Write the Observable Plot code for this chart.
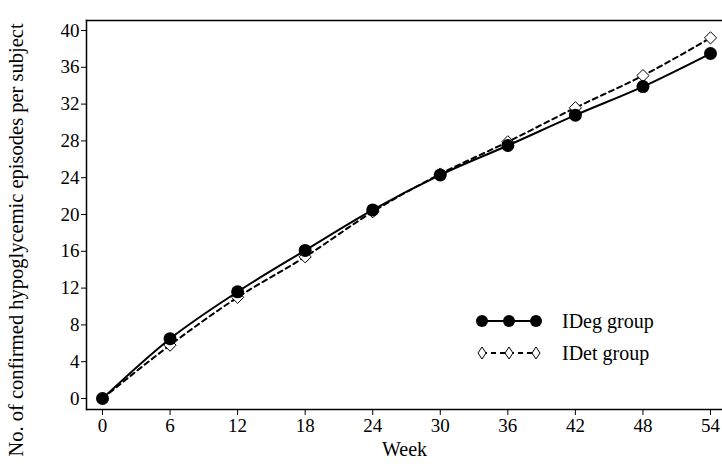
<!DOCTYPE html>
<html><head><meta charset="utf-8">
<script src="https://cdn.jsdelivr.net/npm/d3@7"></script>
<script src="https://cdn.jsdelivr.net/npm/@observablehq/plot@0.6"></script>
<style>
body{margin:0;background:#fff;font-family:"Liberation Serif","Times New Roman",serif;}
#wrap{position:relative;width:722px;height:464px;}
#legend{position:absolute;left:474px;top:305px;font-size:20px;color:#000;}
#legend .row{display:flex;align-items:center;height:32px;}
#legend svg{margin-right:18px;}
</style></head><body>
<div id="wrap"><div id="chart"></div>
<div id="legend">
<div class="row"><svg width="70" height="20"><line x1="8" y1="10" x2="62" y2="10" stroke="#000" stroke-width="2"/><circle cx="8" cy="10" r="6" fill="#000"/><circle cx="35" cy="10" r="6" fill="#000"/><circle cx="62" cy="10" r="6" fill="#000"/></svg><span>IDeg group</span></div>
<div class="row"><svg width="70" height="20"><line x1="8" y1="10" x2="62" y2="10" stroke="#000" stroke-width="2" stroke-dasharray="5,4"/><path d="M8,4L12,10L8,16L4,10Z" fill="#fff" stroke="#000"/><path d="M35,4L39,10L35,16L31,10Z" fill="#fff" stroke="#000"/><path d="M62,4L66,10L62,16L58,10Z" fill="#fff" stroke="#000"/></svg><span>IDet group</span></div>
</div></div>
<script>
const weeks = [0, 6, 12, 18, 24, 30, 36, 42, 48, 54];
const ideg = [0, 6.5, 11.6, 16.1, 20.5, 24.3, 27.5, 30.8, 33.9, 37.5];
const idet = [0, 5.8, 11.0, 15.4, 20.3, 24.4, 27.9, 31.6, 35.1, 39.2];
const yTicks = [0, 4, 8, 12, 16, 20, 24, 28, 32, 36, 40];
const xTicks = weeks;

const degData = weeks.map((w, i) => ({week: w, value: ideg[i]}));
const detData = weeks.map((w, i) => ({week: w, value: idet[i]}));

const chart = Plot.plot({
  width: 722, height: 464,
  marginLeft: 86, marginRight: 0, marginTop: 20, marginBottom: 55,
  insetLeft: 16, insetRight: 12, insetTop: 10, insetBottom: 11,
  style: {fontFamily: '"Liberation Serif","Times New Roman",serif', fontSize: "19px", color: "#000", background: "#fff"},
  x: {domain: [0, 54]},
  y: {domain: [0, 40]},
  marks: [
    Plot.frame({anchor: "left", stroke: "#000", strokeWidth: 1.5}),
    Plot.frame({anchor: "bottom", stroke: "#000", strokeWidth: 1.5}),
    Plot.frame({anchor: "top", stroke: "#000", strokeWidth: 1.5}),
    Plot.axisY({ticks: yTicks, tickSize: 5, tickPadding: 2, fontSize: 19, label: null, tickFormat: d => d}),
    Plot.axisX({ticks: xTicks, tickSize: 6, tickPadding: 3, fontSize: 19, label: null, tickFormat: d => d}),
    Plot.text(["No. of confirmed hypoglycemic episodes per subject"], {frameAnchor: "left", dx: -70, dy: 25, rotate: -90, fontSize: 20.5, textAnchor: "middle"}),
    Plot.text(["Week"], {frameAnchor: "bottom", dy: 46, fontSize: 20}),
    Plot.line(detData, {x: "week", y: "value", stroke: "#000", strokeWidth: 2, strokeDasharray: "5,4", curve: "monotone-x"}),
    Plot.line(degData, {x: "week", y: "value", stroke: "#000", strokeWidth: 2, curve: "monotone-x"}),
    Plot.dot(detData, {x: "week", y: "value", symbol: "diamond2", r: 5.5, fill: "#fff", stroke: "#000", strokeWidth: 1}),
    Plot.dot(degData, {x: "week", y: "value", r: 6.5, fill: "#000", stroke: "none"})
  ]
});
document.getElementById("chart").appendChild(chart);
</script>
</body></html>
